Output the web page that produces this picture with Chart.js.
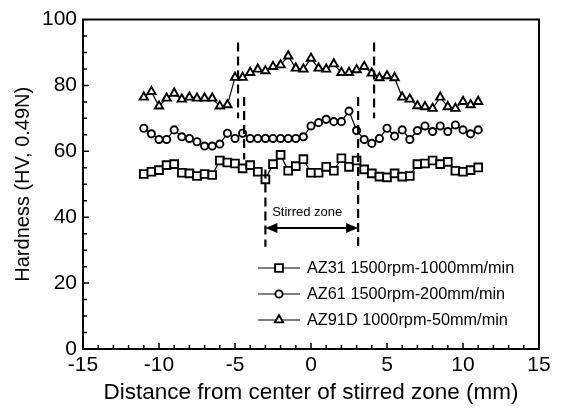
<!DOCTYPE html>
<html>
<head>
<meta charset="utf-8">
<title>Hardness profile</title>
<script src="https://cdn.jsdelivr.net/npm/chart.js"></script>
<style>
body { margin: 0; background: #fff; }
#wrap { width: 561px; height: 408px; }
</style>
</head>
<body>
<div id="wrap"><canvas id="hardness" width="561" height="408"></canvas></div>
<script>
// distance from center of stirred zone (mm)
var distance = [-11, -10.5, -10, -9.5, -9, -8.5, -8, -7.5, -7, -6.5, -6, -5.5, -5, -4.5, -4,
  -3.5, -3, -2.5, -2, -1.5, -1, -0.5, 0, 0.5, 1, 1.5, 2, 2.5, 3, 3.5, 4, 4.5, 5, 5.5, 6,
  6.5, 7, 7.5, 8, 8.5, 9, 9.5, 10, 10.5, 11];

// hardness HV 0.49N
var az31 = [53.1, 53.8, 54.3, 55.8, 56.1, 53.5, 53.3, 52.5, 53.1, 52.8,
  57.2, 56.6, 56.3, 54.8, 55.8, 53.8, 51.5, 56.1, 58.9, 54.1,
  55.5, 57.6, 53.5, 53.5, 55.3, 54.1, 57.9, 55.3, 57.2, 54.5,
  53.3, 52.3, 52.1, 53.3, 52.3, 52.5, 56.1, 56.3, 57.2, 56.1,
  56.8, 54.1, 53.8, 54.3, 55.1];
var az61 = [67.0, 65.3, 63.6, 63.6, 66.5, 64.4, 63.9, 62.9, 61.6, 61.6,
  62.2, 65.5, 63.9, 65.5, 63.9, 63.9, 63.9, 63.9, 63.9, 63.9,
  63.9, 64.4, 67.7, 68.7, 69.7, 69.0, 69.0, 72.2, 66.3, 63.6,
  62.4, 63.9, 67.0, 64.6, 66.5, 63.6, 66.3, 67.7, 66.0, 67.7,
  66.0, 68.0, 66.5, 65.3, 66.5];
var az91d = [76.4, 78.1, 73.7, 76.1, 77.6, 75.8, 76.4, 76.1, 76.1, 76.1,
  73.7, 74.1, 82.4, 82.4, 83.9, 84.9, 84.4, 85.7, 86.2, 88.9,
  85.2, 84.9, 88.2, 85.2, 84.9, 86.5, 83.9, 83.9, 84.7, 85.7,
  83.7, 82.3, 82.9, 82.3, 76.4, 75.8, 73.8, 73.5, 73.0, 76.4,
  73.5, 73.0, 75.1, 74.1, 75.1];

var seriesNames = ['AZ31 1500rpm-1000mm/min', 'AZ61 1500rpm-200mm/min', 'AZ91D 1000rpm-50mm/min'];

// dashed boundaries: x position, from/to hardness value
var boundaryX = [-4.8, 4.15, -4.4, 3.1, -3.0];
var boundaryFrom = [70, 70, 57.5, 31, 31];
var boundaryTo = [93, 93, 76.5, 76.5, 54.5];

var zoneLabel = 'Stirred zone';
var zoneFrom = -3.0, zoneTo = 3.1, zoneArrowY = 36.7, zoneTextY = 41.3, zoneTextX = -0.25;

var FONT = 'Liberation Sans, Arial, sans-serif';

function points(ys) {
  return distance.map(function (x, i) { return { x: x, y: ys[i] }; });
}

function series(label, ys, style, r) {
  return {
    label: label,
    data: points(ys),
    borderColor: '#000',
    borderWidth: 1.2,
    backgroundColor: '#fff',
    pointStyle: style,
    pointRadius: r,
    pointBorderWidth: 1.9,
    pointBorderColor: '#000',
    pointBackgroundColor: '#fff',
    tension: 0
  };
}

function marker(ctx, style, r, x, y) {
  ctx.save();
  ctx.lineWidth = 1.9;
  ctx.strokeStyle = '#000';
  ctx.fillStyle = '#fff';
  if (Chart.helpers && Chart.helpers.drawPoint) {
    Chart.helpers.drawPoint(ctx, { pointStyle: style, radius: r, borderWidth: 1.9, rotation: 0 }, x, y);
  } else {
    ctx.beginPath();
    if (style === 'rect') {
      var s = r * Math.SQRT1_2;
      ctx.rect(x - s, y - s, 2 * s, 2 * s);
    } else if (style === 'circle') {
      ctx.arc(x, y, r, 0, Math.PI * 2);
    } else {
      ctx.moveTo(x, y - r);
      ctx.lineTo(x + r * 0.866, y + r / 2);
      ctx.lineTo(x - r * 0.866, y + r / 2);
      ctx.closePath();
    }
    ctx.fill();
    ctx.stroke();
  }
  ctx.restore();
}

var extras = {
  id: 'extras',
  afterDatasetsDraw: function (chart) {
    var ctx = chart.ctx, a = chart.chartArea;
    var xs = chart.scales.x, ys = chart.scales.y;
    ctx.save();

    // frame
    ctx.strokeStyle = '#000';
    ctx.lineWidth = 2;
    ctx.strokeRect(a.left, a.top, a.right - a.left, a.bottom - a.top);

    // inward ticks
    ctx.lineWidth = 1.5;
    ctx.beginPath();
    for (var v = -14; v < 15; v++) {
      var px = xs.getPixelForValue(v);
      var len = v % 5 === 0 ? 6 : 4;
      ctx.moveTo(px, a.bottom);
      ctx.lineTo(px, a.bottom - len);
    }
    for (var w = 5; w < 100; w += 5) {
      var py = ys.getPixelForValue(w);
      var l2 = w % 20 === 0 ? 6 : 4;
      ctx.moveTo(a.left, py);
      ctx.lineTo(a.left + l2, py);
    }
    ctx.stroke();

    // dashed boundaries
    ctx.lineWidth = 2.2;
    ctx.setLineDash([9, 5]);
    ctx.beginPath();
    boundaryX.forEach(function (bx, i) {
      var px = xs.getPixelForValue(bx);
      ctx.moveTo(px, ys.getPixelForValue(boundaryTo[i]));
      ctx.lineTo(px, ys.getPixelForValue(boundaryFrom[i]));
    });
    ctx.stroke();
    ctx.setLineDash([]);

    // stirred zone arrow
    var x0 = xs.getPixelForValue(zoneFrom), x1 = xs.getPixelForValue(zoneTo);
    var ay = ys.getPixelForValue(zoneArrowY);
    ctx.lineWidth = 2;
    ctx.beginPath();
    ctx.moveTo(x0 + 8, ay);
    ctx.lineTo(x1 - 8, ay);
    ctx.stroke();
    ctx.fillStyle = '#000';
    ctx.beginPath();
    ctx.moveTo(x0, ay); ctx.lineTo(x0 + 12, ay - 5); ctx.lineTo(x0 + 12, ay + 5); ctx.closePath();
    ctx.moveTo(x1, ay); ctx.lineTo(x1 - 12, ay - 5); ctx.lineTo(x1 - 12, ay + 5); ctx.closePath();
    ctx.fill();
    ctx.font = '13px ' + FONT;
    ctx.textAlign = 'center';
    ctx.textBaseline = 'middle';
    ctx.fillText(zoneLabel, xs.getPixelForValue(zoneTextX), ys.getPixelForValue(zoneTextY));

    // legend
    ctx.font = '16.3px ' + FONT;
    ctx.textAlign = 'left';
    chart.data.datasets.forEach(function (ds, i) {
      var ly = 268 + i * 26;
      ctx.lineWidth = 1.2;
      ctx.beginPath();
      ctx.moveTo(258, ly);
      ctx.lineTo(300, ly);
      ctx.stroke();
      marker(ctx, ds.pointStyle, ds.pointRadius, 279, ly);
      ctx.fillStyle = '#000';
      ctx.fillText(ds.label, 307, ly + 1);
    });
    ctx.restore();
  }
};

new Chart(document.getElementById('hardness'), {
  type: 'line',
  data: {
    datasets: [
      series(seriesNames[0], az31, 'rect', 5.5),
      series(seriesNames[1], az61, 'circle', 3.6),
      series(seriesNames[2], az91d, 'triangle', 4.8)
    ]
  },
  options: {
    responsive: false,
    devicePixelRatio: 1,
    animation: false,
    layout: { padding: { left: 0, right: 22, top: 19.5, bottom: 0 } },
    plugins: { legend: { display: false }, tooltip: { enabled: false } },
    scales: {
      x: {
        type: 'linear',
        min: -15,
        max: 15,
        afterFit: function (s) { s.height = 59; },
        grid: { display: false, drawTicks: false },
        border: { display: false },
        ticks: { stepSize: 5, color: '#000', padding: 4, font: { family: FONT, size: 21 } },
        title: {
          display: true,
          text: 'Distance from center of stirred zone (mm)',
          color: '#000',
          font: { family: FONT, size: 22.5 },
          padding: { top: 0, bottom: 2 }
        }
      },
      y: {
        min: 0,
        max: 100,
        afterFit: function (s) { s.width = 83; },
        grid: { display: false, drawTicks: false },
        border: { display: false },
        ticks: { stepSize: 20, color: '#000', padding: 6, font: { family: FONT, size: 21 } },
        title: {
          display: true,
          text: 'Hardness (HV, 0.49N)',
          color: '#000',
          font: { family: FONT, size: 20 },
          padding: { top: 11, bottom: 0 }
        }
      }
    }
  },
  plugins: [extras]
});
</script>
</body>
</html>
